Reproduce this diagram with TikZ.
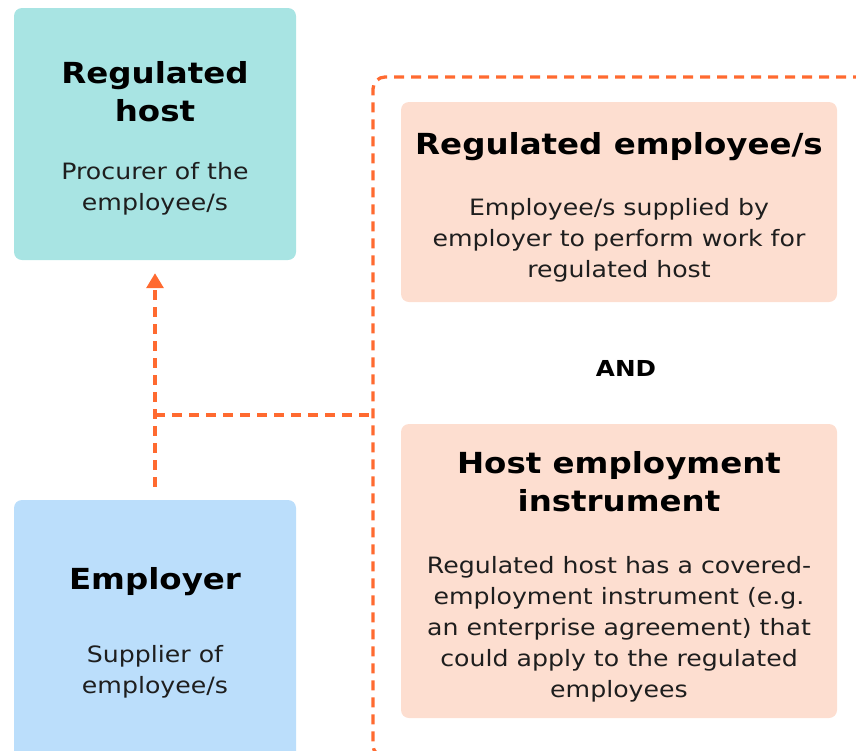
\documentclass[tikz,border=0pt]{standalone}
\usepackage{fontspec}
\setmainfont{DejaVu Sans}[FakeStretch=1.12]
\usetikzlibrary{arrows.meta}
\definecolor{hostfill}{HTML}{A8E4E3}
\definecolor{empfill}{HTML}{BBDEFB}
\definecolor{salfill}{HTML}{FDDED0}
\definecolor{dashor}{HTML}{FF6A30}
\definecolor{bodytext}{HTML}{1E1E1E}
\begin{document}
\begin{tikzpicture}[x=1pt,y=-1pt,
  box/.style={rounded corners=8pt, inner sep=0pt},
  ttl/.style={font=\bfseries\fontsize{29}{38}\selectfont, align=center, inner sep=0pt, anchor=north, text=black},
  bdy/.style={font=\fontsize{22.5}{31}\selectfont, align=center, inner sep=0pt, anchor=north, text=bodytext},
  dashline/.style={draw=dashor, line width=3.3pt, dash pattern=on 10pt off 7pt},
  flow/.style={dashline, -{Triangle[width=17pt,length=15pt]}, shorten <=13pt, shorten >=13pt}
]
\useasboundingbox (0,0) rectangle (856,750);
% boxes
\node[box, fill=hostfill, minimum width=282pt, minimum height=252pt] (host) at (155,134) {};
\node[box, fill=empfill, minimum width=282pt, minimum height=270pt] (emp) at (155,635) {};
\node[box, rounded corners=12pt, dashline, minimum width=502pt, minimum height=680pt] (dbox) at (624,417) {};
\node[box, fill=salfill, minimum width=436pt, minimum height=200pt] (remp) at (619,202) {};
\node[box, fill=salfill, minimum width=436pt, minimum height=294pt] (hei) at (619,571) {};
% texts
\node[ttl] (hostT) at (155,61) {Regulated\\host};
\node[bdy] (hostB) at (155,162) {Procurer of the\\employee/s};
\node[ttl] (empT) at (155,567) {Employer};
\node[bdy] (empB) at (155,645) {Supplier of\\employee/s};
\node[ttl] (rempT) at (619,132) {Regulated employee/s};
\node[bdy] (rempB) at (619,198) {Employee/s supplied by\\employer to perform work for\\regulated host};
\node[ttl, font=\bfseries\fontsize{22}{28}\selectfont] (andT) at (626,360) {AND};
\node[ttl] (heiT) at (619,451) {Host employment\\instrument};
\node[bdy] (heiB) at (619,556) {Regulated host has a covered-\\employment instrument (e.g.\\an enterprise agreement) that\\could apply to the regulated\\employees};
% connectors
\draw[flow] (emp) -- (host);
\coordinate (j) at (155,415);
\draw[dashline] (j) -- (j -| dbox.west);
\end{tikzpicture}
\end{document}
